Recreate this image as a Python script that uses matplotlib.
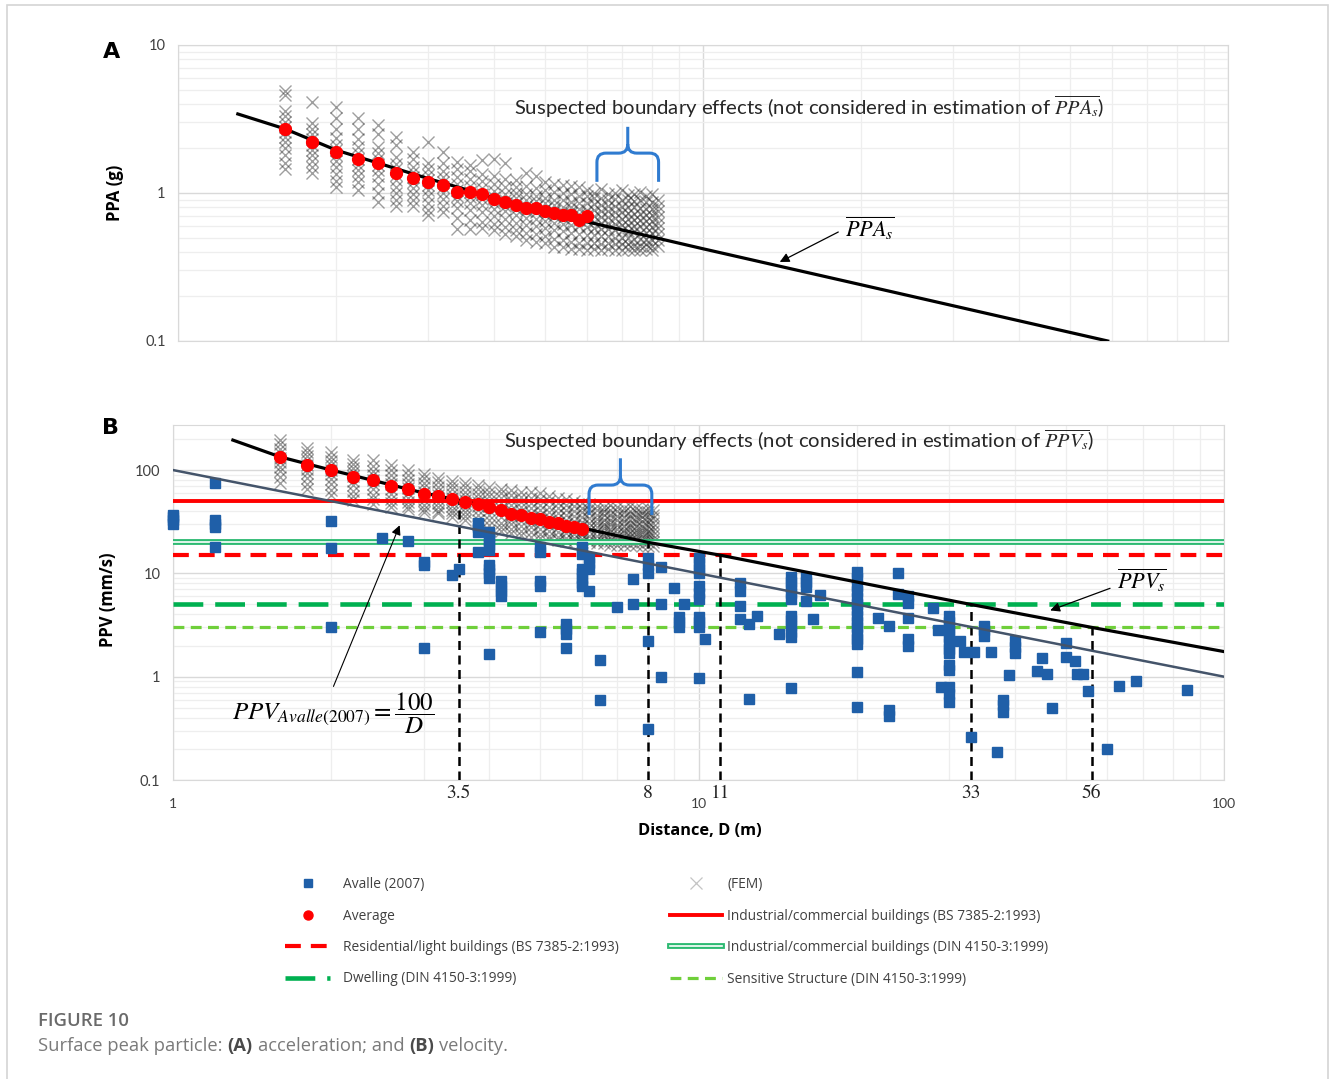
import matplotlib
matplotlib.use('Agg')
import matplotlib.pyplot as plt
import matplotlib.transforms as mtransforms
from matplotlib.path import Path
from matplotlib.patches import PathPatch, Rectangle
from matplotlib.lines import Line2D
from matplotlib.legend_handler import HandlerTuple
from matplotlib.ticker import FixedLocator, FixedFormatter, LogLocator, NullFormatter

plt.rcParams['font.family'] = ['Lato', 'DejaVu Sans']
plt.rcParams['mathtext.fontset'] = 'stix'

# ---------------- data ----------------
# FEM sample distances (m), one column of crosses per distance
fem_dist = [1.6, 1.8, 2.0, 2.2, 2.4, 2.6, 2.8, 3.0, 3.2, 3.4, 3.6, 3.8, 4.0, 4.2,
            4.4, 4.6, 4.8, 5.0, 5.2, 5.4, 5.6, 5.8, 6.0, 6.2, 6.4, 6.6, 6.8, 7.0,
            7.2, 7.4, 7.6, 7.8, 8.0, 8.2]

# FEM peak particle acceleration (g) per column
fem_ppa = [
    [4.9, 4.6, 3.6, 3.3, 3.0, 2.8, 2.6, 2.4, 2.2, 2.0, 1.8, 1.6, 1.45],
    [4.1, 2.95, 2.7, 2.5, 2.3, 2.1, 1.95, 1.8, 1.65, 1.5, 1.36],
    [3.8, 3.2, 2.7, 2.35, 2.1, 1.95, 1.8, 1.65, 1.5, 1.35, 1.2, 1.1],
    [3.2, 2.7, 2.3, 2.05, 1.85, 1.7, 1.55, 1.42, 1.3, 1.18, 1.05],
    [2.9, 2.5, 2.05, 1.85, 1.7, 1.55, 1.42, 1.3, 1.15, 1.0, 0.87],
    [2.4, 2.1, 1.75, 1.58, 1.45, 1.33, 1.22, 1.1, 1.0, 0.9, 0.82],
    [1.9, 1.7, 1.5, 1.38, 1.28, 1.18, 1.08, 0.98, 0.9, 0.82],
    [2.2, 1.6, 1.45, 1.33, 1.23, 1.14, 1.04, 0.95, 0.86, 0.77, 0.71],
    [1.9, 1.6, 1.4, 1.28, 1.18, 1.09, 1.0, 0.91, 0.82, 0.74],
    [1.63, 1.45, 1.28, 1.15, 1.05, 0.96, 0.88, 0.79, 0.68, 0.57],
    [1.55, 1.4, 1.25, 1.12, 1.02, 0.94, 0.86, 0.77, 0.66, 0.57],
    [1.66, 1.35, 1.2, 1.08, 0.99, 0.91, 0.83, 0.74, 0.64, 0.58],
    [1.7, 1.3, 1.15, 1.03, 0.94, 0.86, 0.78, 0.7, 0.62, 0.56],
    [1.6, 1.25, 1.1, 0.99, 0.9, 0.82, 0.75, 0.67, 0.59, 0.53],
    [1.22, 1.1, 1.0, 0.92, 0.85, 0.78, 0.71, 0.63, 0.56, 0.51],
    [1.36, 1.12, 0.99, 0.9, 0.82, 0.75, 0.68, 0.61, 0.54, 0.48],
    [1.3, 1.08, 0.96, 0.88, 0.81, 0.74, 0.67, 0.6, 0.53, 0.47],
    [1.19, 1.05, 0.93, 0.85, 0.78, 0.71, 0.65, 0.58, 0.51, 0.46],
    [1.15, 1.02, 0.9, 0.83, 0.76, 0.7, 0.63, 0.56, 0.49, 0.43],
    [1.14, 1.0, 0.89, 0.81, 0.74, 0.68, 0.62, 0.55, 0.48, 0.43],
    [1.12, 0.98, 0.87, 0.8, 0.73, 0.67, 0.61, 0.54, 0.47, 0.42],
    [1.1, 0.96, 0.86, 0.78, 0.72, 0.66, 0.6, 0.53, 0.46, 0.42],
    [1.05, 0.95, 0.85, 0.77, 0.71, 0.65, 0.59, 0.52, 0.46, 0.41],
    [1.0, 0.92, 0.84, 0.77, 0.7, 0.64, 0.58, 0.52, 0.46, 0.42],
    [1.06, 0.93, 0.83, 0.76, 0.69, 0.63, 0.57, 0.51, 0.45, 0.41],
    [0.98, 0.9, 0.82, 0.75, 0.69, 0.63, 0.57, 0.51, 0.46, 0.42],
    [1.0, 0.91, 0.82, 0.74, 0.68, 0.62, 0.56, 0.5, 0.45, 0.41],
    [1.04, 0.9, 0.81, 0.74, 0.67, 0.61, 0.56, 0.5, 0.45, 0.41],
    [0.97, 0.89, 0.8, 0.73, 0.67, 0.61, 0.55, 0.5, 0.45, 0.42],
    [0.99, 0.88, 0.8, 0.72, 0.66, 0.6, 0.55, 0.49, 0.44, 0.41],
    [1.02, 0.9, 0.79, 0.72, 0.66, 0.6, 0.54, 0.49, 0.44, 0.41],
    [0.96, 0.87, 0.78, 0.71, 0.65, 0.59, 0.54, 0.49, 0.45, 0.42],
    [0.98, 0.87, 0.78, 0.71, 0.65, 0.59, 0.54, 0.48, 0.44, 0.41],
    [0.9, 0.82, 0.75, 0.69, 0.63, 0.58, 0.53, 0.48, 0.44],
]

# FEM peak particle velocity (mm/s) per column
fem_ppv = [
    [195, 178, 160, 145, 132, 120, 108, 97, 86, 75],
    [165, 150, 136, 124, 113, 103, 93, 83, 74, 66],
    [150, 135, 122, 111, 101, 91, 82, 73, 64, 57],
    [125, 114, 104, 95, 87, 79, 71, 63, 56, 51],
    [125, 110, 98, 89, 81, 73, 65, 58, 52, 47],
    [112, 100, 90, 81, 73, 66, 59, 53, 48, 44],
    [100, 90, 81, 74, 67, 60, 54, 49, 45, 42],
    [92, 83, 75, 68, 62, 56, 51, 46, 42, 39.5],
    [84, 76, 69, 63, 57, 52, 48, 44, 40, 38],
    [78, 71, 65, 59, 54, 49, 45, 41, 38, 35],
    [75, 68, 62, 56, 51, 47, 43, 39, 36, 33],
    [72, 65, 59, 54, 49, 45, 41, 37, 33, 30],
    [69, 62, 56, 50, 45, 41, 37, 33, 29.5, 26.5],
    [66, 60, 54, 48, 43, 39, 35, 31, 28, 25.5],
    [64, 57, 51, 46, 41, 37, 33, 30, 27, 24.5],
    [62, 55, 49, 44, 40, 36, 32, 29, 26, 23.5],
    [61, 54, 48, 43, 38, 34, 31, 28, 25, 22.5],
    [60, 53, 46, 41, 37, 33, 30, 27, 24, 22],
    [56, 50, 44, 39, 35, 32, 29, 26, 23, 21.5],
    [54, 48, 43, 38, 34, 31, 28, 25, 22.5, 21],
    [52, 46, 41, 37, 33, 30, 27, 24.5, 22, 20.5],
    [50, 45, 40, 36, 32, 29, 26.5, 24, 22, 20.5],
    [48, 43, 39, 35, 31.5, 28.5, 26, 23.5, 21.5, 20],
    [47, 42, 38, 34, 31, 28, 25.5, 23, 21, 20],
    [45, 41, 37, 33.5, 30.5, 28, 25.5, 23, 21, 19.5],
    [44, 40, 36.5, 33, 30, 27.5, 25, 23, 21, 19.5],
    [46, 41, 37, 33, 30, 27, 25, 22.5, 20.5, 19],
    [44, 40, 36, 32.5, 29.5, 27, 24.5, 22.5, 20.5, 19],
    [43, 39, 35.5, 32, 29, 26.5, 24.5, 22, 20.5, 19],
    [45, 40, 36, 32.5, 29.5, 27, 24.5, 22.5, 20.5, 19],
    [43, 39, 35, 32, 29, 26.5, 24, 22, 20.5, 19],
    [42, 38, 35, 32, 29, 26.5, 24, 22, 20, 18.5],
    [43, 39, 35, 31.5, 28.5, 26, 24, 22, 20, 18.5],
    [41, 37, 34, 31, 28, 25.5, 23.5, 21.5, 20, 18.5],
]

# averages of the FEM results
avg_dist = [1.6, 1.8, 2.0, 2.2, 2.4, 2.6, 2.8, 3.0, 3.2, 3.4, 3.6, 3.8, 4.0, 4.2,
            4.4, 4.6, 4.8, 5.0, 5.2, 5.4, 5.6, 5.8, 6.0]
avg_ppa = [2.71, 2.2, 1.9, 1.71, 1.59, 1.36, 1.26, 1.19, 1.13, 1.01, 1.02, 0.98,
           0.91, 0.865, 0.83, 0.79, 0.79, 0.75, 0.73, 0.71, 0.71, 0.66, 0.70]
avg_ppv = [134, 113, 100, 85.5, 80, 69.5, 65.5, 58.6, 55.5, 52, 49.5, 47, 43.5,
           41.4, 37.5, 36.7, 34.6, 33.3, 31.7, 30.5, 29, 27.9, 27.1]

# fitted curves PPA_s and PPV_s
fit_a_dist = [1.3, 1.6, 2, 3, 4, 6, 10, 20, 59]
fit_a_ppa = [3.42, 2.71, 1.95, 1.25, 0.93, 0.64, 0.42, 0.24, 0.1]
fit_b_dist = [1.3, 1.6, 2, 3, 3.5, 6, 8, 11, 33, 56, 100]
fit_b_ppv = [195, 134, 100, 60, 51, 27.5, 20, 15, 5, 3, 1.75]

# Avalle (2007): PPV = 100 / D
avalle_line_dist = [1, 100]
avalle_line_ppv = [100, 1]

# Avalle (2007) measurements
avalle_pts = [
    (1.0, 37), (1.0, 35), (1.0, 33), (1.0, 30),
    (1.2, 75), (1.2, 33), (1.2, 30), (1.2, 28), (1.2, 18),
    (2.0, 32), (2.0, 17.5), (2.0, 3.0),
    (2.5, 22), (2.8, 20.5),
    (3.0, 13), (3.0, 12), (3.0, 1.9),
    (3.4, 9.6), (3.5, 11),
    (3.8, 31), (3.8, 28), (3.8, 25), (3.8, 16),
    (4.0, 25), (4.0, 23), (4.0, 21), (4.0, 19), (4.0, 17), (4.0, 12), (4.0, 11),
    (4.0, 10), (4.0, 9), (4.0, 1.65),
    (4.2, 8.5), (4.2, 7.5), (4.2, 6.8), (4.2, 6),
    (5.0, 18), (5.0, 16), (5.0, 8.5), (5.0, 7.5), (5.0, 2.7),
    (5.6, 3.2), (5.6, 2.9), (5.6, 2.6), (5.6, 1.9),
    (6.0, 18), (6.0, 15.5), (6.0, 11), (6.0, 10), (6.0, 9), (6.0, 8), (6.0, 7.5),
    (6.2, 14), (6.2, 12.5), (6.2, 11), (6.2, 6.7),
    (6.5, 1.45), (6.5, 0.59),
    (7.0, 4.7), (7.5, 8.9), (7.5, 5.1),
    (8.0, 14), (8.0, 12), (8.0, 10), (8.0, 2.2), (8.0, 0.31),
    (8.5, 11.4), (8.5, 5.1), (8.5, 1.0),
    (9.0, 7.2), (9.2, 3.8), (9.2, 3.4), (9.2, 3.0), (9.4, 5.1),
    (10, 14), (10, 12.5), (10, 11), (10, 10), (10, 7.5), (10, 6.5), (10, 5.6),
    (10, 3.8), (10, 3.4), (10, 3.0), (10, 0.97), (10.3, 2.3),
    (12, 8), (12, 6.8), (12, 4.8), (12, 3.6), (12.5, 3.2), (12.5, 0.61), (12.9, 3.9),
    (14.2, 2.6),
    (15, 9.3), (15, 8.2), (15, 7.3), (15, 6.4), (15, 5.6), (15, 3.9), (15, 3.5),
    (15, 3.1), (15, 2.7), (15, 2.4), (15, 0.78),
    (16, 9.3), (16, 8.3), (16, 7.4), (16, 5.4), (16.5, 3.6), (17, 6.2),
    (20, 10.2), (20, 9), (20, 7.5), (20, 6.7), (20, 5.8), (20, 5), (20, 4.4),
    (20, 3.9), (20, 3.4), (20, 3), (20, 2.6), (20, 2.3), (20, 2.05),
    (20, 1.1), (20, 0.51),
    (22, 3.7), (23, 3.1), (23, 0.48), (23, 0.42),
    (24, 10), (24, 6.3), (25, 6.0), (25, 5.2), (25, 3.7), (25, 2.3), (25, 2.0),
    (28, 4.6), (28.6, 2.8),
    (30, 3.9), (30, 3.4), (30, 3.0), (30, 2.7), (30, 2.4), (30, 2.1), (30, 1.85),
    (30, 1.7), (30, 1.3), (30, 1.15), (30, 0.8), (30, 0.68), (30, 0.57), (29, 0.8),
    (31.4, 2.2), (32, 1.75), (33.5, 1.75), (33, 0.26),
    (35, 3.1), (35, 2.8), (35, 2.5), (36, 1.75), (37, 0.185), (38, 0.6), (38, 0.53),
    (38, 0.46), (39, 1.03), (40, 2.2), (40, 1.95), (40, 1.7),
    (44, 1.13), (45, 1.5), (46, 1.05), (47, 0.5),
    (50, 2.1), (50, 1.55), (52, 1.42), (52.5, 1.05), (54, 1.05), (55, 0.72),
    (60, 0.2), (63, 0.82), (68, 0.9), (85, 0.74),
]
avalle_dist = [p[0] for p in avalle_pts]
avalle_ppv = [p[1] for p in avalle_pts]

# vibration limits (mm/s)
limit_values = [50, 20, 15, 5, 3]
limit_labels = ['Industrial/commercial buildings (BS 7385-2:1993)',
                'Industrial/commercial buildings (DIN 4150-3:1999)',
                'Residential/light buildings (BS 7385-2:1993)',
                'Dwelling (DIN 4150-3:1999)',
                'Sensitive Structure (DIN 4150-3:1999)']

# distances where PPV_s meets each limit
cross_dist = [3.5, 8, 11, 33, 56]
cross_ppv = [50, 20, 15, 5, 3]

# ---------------- figure ----------------
W, H = 1330, 1079
fig = plt.figure(figsize=(W / 100, H / 100), dpi=100)


def px_axes(l, t, r, b):
    return fig.add_axes([l / W, 1 - b / H, (r - l) / W, (b - t) / H])


def style_axes(ax, ylim, yticks, ylabels):
    ax.set_xscale('log')
    ax.set_yscale('log')
    ax.set_xlim(1, 100)
    ax.set_ylim(*ylim)
    ax.yaxis.set_major_locator(FixedLocator(yticks))
    ax.yaxis.set_major_formatter(FixedFormatter(ylabels))
    ax.yaxis.set_minor_locator(LogLocator(subs=range(2, 10)))
    ax.yaxis.set_minor_formatter(NullFormatter())
    ax.xaxis.set_major_locator(FixedLocator([1, 10, 100]))
    ax.xaxis.set_major_formatter(FixedFormatter(['1', '10', '100']))
    ax.xaxis.set_minor_locator(LogLocator(subs=range(2, 10)))
    ax.xaxis.set_minor_formatter(NullFormatter())
    ax.grid(True, which='major', color='#d9d9d9', lw=1.0)
    ax.grid(True, which='minor', color='#eeeeee', lw=0.9)
    ax.set_axisbelow(True)
    for s in ax.spines.values():
        s.set_color('#d9d9d9')
    ax.tick_params(which='both', length=0, labelsize=10.5, labelcolor='#404040', pad=9)


def draw_brace(ax, x0, x1, y_tip, y_bar, y_peak, color):
    # brace built in pixel space from data anchor points
    (X0, YT), (X1, _) = ax.transData.transform([(x0, y_tip), (x1, y_tip)])
    YB = ax.transData.transform((x0, y_bar))[1]
    YP = ax.transData.transform((x0, y_peak))[1]
    XM = (X0 + X1) / 2
    r = 9
    verts = [(X0, YT), (X0, YB - r), (X0, YB), (X0 + r, YB), (XM - r, YB),
             (XM, YB), (XM, YB + r), (XM, YP),
             (XM, YB + r), (XM, YB), (XM + r, YB), (X1 - r, YB), (X1, YB),
             (X1, YB - r), (X1, YT)]
    codes = [Path.MOVETO, Path.LINETO, Path.CURVE3, Path.CURVE3, Path.LINETO,
             Path.CURVE3, Path.CURVE3, Path.LINETO,
             Path.MOVETO, Path.CURVE3, Path.CURVE3, Path.LINETO, Path.CURVE3,
             Path.CURVE3, Path.LINETO]
    patch = PathPatch(Path(verts, codes), fill=False, edgecolor=color, lw=2.2,
                      transform=mtransforms.IdentityTransform(), zorder=7)
    ax.add_artist(patch)


ax_a = px_axes(178, 45, 1228, 341)
ax_b = px_axes(173, 425, 1224, 780)
style_axes(ax_a, (0.1, 10), [0.1, 1, 10], ['0.1', '1', '10'])
style_axes(ax_b, (0.1, 273), [0.1, 1, 10, 100], ['0.1', '1', '10', '100'])
ax_a.tick_params(labelbottom=False)
ax_b.tick_params(axis='x', pad=13, labelsize=10)

fem_kw = dict(ls='none', marker='x', ms=9, mew=1.0, color='#1a1a1a', alpha=0.42, zorder=2)
avg_kw = dict(ls='none', marker='o', ms=8.5, color='#ff0000', zorder=8)

# ---- panel A ----
for d, vals in zip(fem_dist, fem_ppa):
    ax_a.plot([d] * len(vals), vals, **fem_kw)
ax_a.plot(fit_a_dist, fit_a_ppa, color='black', lw=2.3, zorder=6)
ax_a.plot(avg_dist, avg_ppa, **avg_kw)

# ---- panel B ----
for d, vals in zip(fem_dist, fem_ppv):
    ax_b.plot([d] * len(vals), vals, **fem_kw)

lim_red = ax_b.axhline(limit_values[0], color='#ff0000', lw=2.8, zorder=3)
lim_din_outer = ax_b.axhline(limit_values[1], color='#2dba72', lw=4.2, zorder=3)
lim_din_inner = ax_b.axhline(limit_values[1], color='white', lw=1.2, zorder=3)
lim_res = ax_b.axhline(limit_values[2], color='#ff0000', lw=3, dashes=(3.8, 2.4), zorder=3)
lim_dwell = ax_b.axhline(limit_values[3], color='#00b050', lw=3.3, dashes=(6.5, 2.6), zorder=3)
lim_sens = ax_b.axhline(limit_values[4], color='#6fcf3a', lw=2.3, dashes=(3.4, 2.0), zorder=3)

ax_b.vlines(cross_dist, 0.1, cross_ppv, colors='black', lw=1.8,
            linestyles=(0, (3.6, 2.2)), zorder=3)

ax_b.plot(avalle_dist, avalle_ppv, ls='none', marker='s', ms=7, color='#1f5fa8',
          zorder=4, clip_on=False)
ax_b.plot(avalle_line_dist, avalle_line_ppv, color='#44546a', lw=1.8, zorder=5)
ax_b.plot(fit_b_dist, fit_b_ppv, color='black', lw=2.3, zorder=6)
ax_b.plot(avg_dist, avg_ppv, **avg_kw)

# labels of the limit crossing distances
blend = mtransforms.blended_transform_factory(ax_b.transData, ax_b.transAxes)
for d in cross_dist:
    ax_b.text(d, -0.037, f'{d:g}', transform=blend, ha='center', va='center',
              family='STIXGeneral', fontsize=14, color='#222222')

# ---- annotations ----
sus_kw = dict(ha='center', va='center', fontsize=14.6, color='#262626')
ax_a.text(0.601, 0.79, r'Suspected boundary effects (not considered in estimation of $\overline{PPA_s}$)',
          transform=ax_a.transAxes, **sus_kw)
ax_b.text(0.596, 0.955, r'Suspected boundary effects (not considered in estimation of $\overline{PPV_s}$)',
          transform=ax_b.transAxes, **sus_kw)

draw_brace(ax_a, 6.28, 8.23, 1.19, 1.86, 2.8, '#2f7bd0')
draw_brace(ax_b, 6.19, 8.15, 36.7, 71.6, 130, '#2f7bd0')

arrow_kw = dict(arrowstyle='-|>', color='black', lw=0.9, mutation_scale=14,
                shrinkA=0, shrinkB=0)
ax_a.annotate('', xy=(14.0, 0.342), xytext=(18.1, 0.545), arrowprops=arrow_kw, zorder=9)
ax_a.text(0.659, 0.382, r'$\overline{PPA_s}$', transform=ax_a.transAxes,
          ha='center', va='center', fontsize=16)

ax_b.annotate('', xy=(46.7, 4.38), xytext=(60.7, 7.17), arrowprops=arrow_kw, zorder=9)
ax_b.text(0.922, 0.561, r'$\overline{PPV_s}$', transform=ax_b.transAxes,
          ha='center', va='center', fontsize=16)

ax_b.annotate('', xy=(2.70, 29.2), xytext=(2.02, 0.805),
              arrowprops=dict(arrow_kw, lw=0.8), zorder=9)
ax_b.text(0.152, 0.189, r'$PPV_{Avalle(2007)}=\dfrac{100}{D}$', transform=ax_b.transAxes,
          ha='center', va='center', fontsize=18)

# ---- axis titles & panel letters ----
fig.text(112 / W, 1 - 52 / H, 'A', fontsize=16, fontweight='bold', ha='center', va='center',
         family='DejaVu Sans')
fig.text(110 / W, 1 - 428 / H, 'B', fontsize=16, fontweight='bold', ha='center', va='center',
         family='DejaVu Sans')
fig.text(115 / W, 1 - 193 / H, 'PPA (g)', rotation=90, fontsize=12, fontweight='bold',
         ha='center', va='center', family='Open Sans')
fig.text(108 / W, 1 - 600 / H, 'PPV (mm/s)', rotation=90, fontsize=12, fontweight='bold',
         ha='center', va='center', family='Open Sans')
fig.text(700 / W, 1 - 831 / H, 'Distance, D (m)', fontsize=11.8, fontweight='bold',
         ha='center', va='center', family='Open Sans')

# ---- legend ----
h_avalle = Line2D([], [], ls='none', marker='s', ms=6, color='#1f5fa8')
h_avg = Line2D([], [], ls='none', marker='o', ms=6.5, color='#ff0000')
h_fem = Line2D([], [], ls='none', marker='x', ms=8, mew=0.9, color='#c4c4c4')
leg_kw = dict(frameon=False, labelcolor='#404040', borderpad=0, borderaxespad=0,
              labelspacing=1.2, prop={'family': 'Open Sans', 'size': 9.9})
fig.legend([h_avalle, h_avg, lim_res, lim_dwell],
           ['Avalle (2007)', 'Average', limit_labels[2], limit_labels[3]],
           loc='upper left', bbox_to_anchor=(285 / W, 1 - 877 / H),
           handlelength=3.3, handletextpad=0.95, **leg_kw)
fig.legend([h_fem, lim_red, (lim_din_outer, lim_din_inner), lim_sens],
           ['(FEM)', limit_labels[0], limit_labels[1], limit_labels[4]],
           loc='upper left', bbox_to_anchor=(670 / W, 1 - 877 / H),
           handlelength=3.8, handletextpad=0.35,
           handler_map={tuple: HandlerTuple(ndivide=1, pad=0)}, **leg_kw)

# ---- page frame & caption ----
fig.add_artist(Rectangle((7 / W, -0.05), 1321 / W, 1.05 - 5 / H, fill=False,
                         edgecolor='#d4d4d4', lw=1.2, transform=fig.transFigure))
fig.text(38 / W, 1 - 1021 / H, 'FIGURE 10', fontsize=13.3, fontweight='semibold',
         color='#6a6a6a', va='center', family='Open Sans')

renderer = fig.canvas.get_renderer()
cap_parts = [('Surface peak particle:', False), ('(A)', True), ('acceleration; and', False),
             ('(B)', True), ('velocity.', False)]
x = 38
for txt, bold in cap_parts:
    t = fig.text(x / W, 1 - 1046 / H, txt, fontsize=13.2, family='Open Sans',
                 fontweight='bold' if bold else 'normal',
                 color='#4a4a4a' if bold else '#7a7a7a', va='center')
    x += t.get_window_extent(renderer=renderer).width + 5

fig.savefig('out.png', dpi=100)
